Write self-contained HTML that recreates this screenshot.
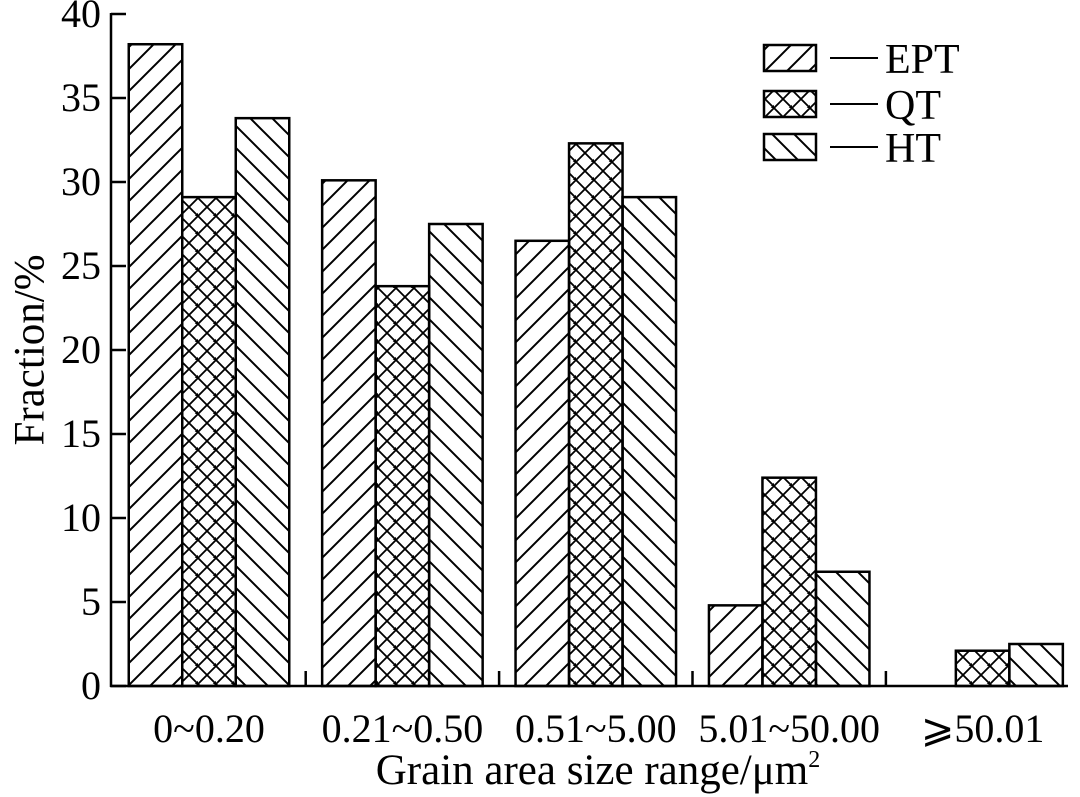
<!DOCTYPE html>
<html><head><meta charset="utf-8"><style>
body{margin:0;background:#fff}
svg{display:block}
text{font-family:"Liberation Serif",serif;fill:#000}
</style></head><body>
<svg id="chart" width="1080" height="797">
<defs>
<pattern id="pEPT" patternUnits="userSpaceOnUse" width="22" height="22"><path d="M-2,24 L24,-2 M-13,13 L13,-13 M9,35 L35,9" stroke="#000" stroke-width="2"/></pattern>
<pattern id="pHT" patternUnits="userSpaceOnUse" width="22" height="22"><path d="M-2,-2 L24,24 M-13,9 L13,35 M9,-13 L35,13" stroke="#000" stroke-width="2"/></pattern>
<pattern id="pQT" patternUnits="userSpaceOnUse" width="18" height="18"><path d="M-2,20 L20,-2 M-11,11 L11,-11 M7,27 L27,7 M-2,-2 L20,20 M-11,7 L11,29 M7,-11 L29,11" stroke="#000" stroke-width="1.8"/></pattern>
</defs>
<g id="bars"></g>
<g id="axes"></g>
<text x="30" y="350" font-size="43" text-anchor="middle" dominant-baseline="central" transform="rotate(-90 30 350)">Fraction/%</text>
<text x="598" y="784" font-size="43" text-anchor="middle">Grain area size range/μm<tspan font-size="24" dy="-17">2</tspan></text>
<g>
<rect x="764" y="45" width="52" height="26" fill="url(#pEPT)" stroke="#000" stroke-width="2.5"/>
<line x1="830" y1="58" x2="878" y2="58" stroke="#000" stroke-width="2"/>
<text x="885" y="73" font-size="42">EPT</text>
<rect x="764" y="91" width="52" height="26" fill="url(#pQT)" stroke="#000" stroke-width="2.5"/>
<line x1="830" y1="104" x2="878" y2="104" stroke="#000" stroke-width="2"/>
<text x="885" y="119" font-size="42">QT</text>
<rect x="764" y="134" width="52" height="26" fill="url(#pHT)" stroke="#000" stroke-width="2.5"/>
<line x1="830" y1="147" x2="878" y2="147" stroke="#000" stroke-width="2"/>
<text x="885" y="162" font-size="42">HT</text>
</g>
</svg>
<script>
const categories = ["0~0.20","0.21~0.50","0.51~5.00","5.01~50.00","\u2a7e50.01"];
const eptValues = [38.2, 30.1, 26.5, 4.8, 0];
const qtValues = [29.1, 23.8, 32.3, 12.4, 2.1];
const htValues = [33.8, 27.5, 29.1, 6.8, 2.5];
const yTicks = [0,5,10,15,20,25,30,35,40];

const NS="http://www.w3.org/2000/svg";
const y0=686, yTop=14, yMax=40;
const yScale=v=>y0-(y0-yTop)*v/yMax;
const xCenter=i=>209+193.4*i;
const bw=53.5;
const barsG=document.getElementById('bars');
const axesG=document.getElementById('axes');
function mk(tag,attrs,parent){const e=document.createElementNS(NS,tag);for(const k in attrs)e.setAttribute(k,attrs[k]);parent.appendChild(e);return e;}
const series=[["ept",eptValues,"pEPT"],["qt",qtValues,"pQT"],["ht",htValues,"pHT"]];
categories.forEach((c,i)=>{
  series.forEach((s,j)=>{
    const v=s[1][i]; if(v<=0) return;
    const x=xCenter(i)+(j-1.5)*bw;
    const r=mk('rect',{x:x,y:yScale(v),width:bw,height:y0-yScale(v),fill:'url(#'+s[2]+')',stroke:'#000','stroke-width':2.5},barsG);
    
    
  });
  const t=mk('text',{x:xCenter(i),y:742,'font-size':40,'text-anchor':'middle'},axesG);
  t.textContent=c;
  
  
  if(i<categories.length-1){
    mk('line',{x1:xCenter(i)+96.7,y1:y0,x2:xCenter(i)+96.7,y2:y0-15,stroke:'#000','stroke-width':2.5},axesG);
  }
});
mk('line',{x1:111,y1:yTop-1,x2:111,y2:y0+1,stroke:'#000','stroke-width':2.5},axesG);
mk('line',{x1:110,y1:y0,x2:1068,y2:y0,stroke:'#000','stroke-width':2.5},axesG);
yTicks.forEach(v=>{
  mk('line',{x1:111,y1:yScale(v),x2:126,y2:yScale(v),stroke:'#000','stroke-width':2.5},axesG);
  const t=mk('text',{x:101,y:yScale(v)+13,'font-size':40,'text-anchor':'end'},axesG);
  t.textContent=v;
  
  
});
</script>
</body></html>
